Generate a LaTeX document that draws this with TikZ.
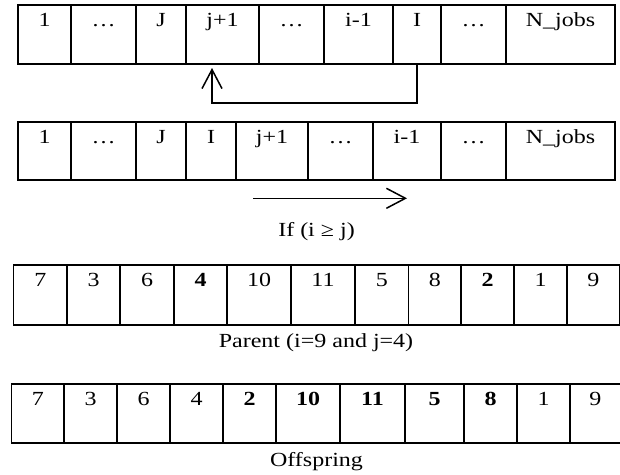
\documentclass[tikz,border=0pt]{standalone}
\usepackage{fontspec}
\setmainfont[FakeStretch=1.2]{Liberation Serif}
\usetikzlibrary{arrows.meta}
\begin{document}
\begin{tikzpicture}[x=1pt,y=-1pt,
  cellbox/.style={draw, line width=1.5pt, rectangle, inner sep=0pt, outer sep=0pt, anchor=north west},
  celltext/.style={anchor=base, inner sep=0pt, font=\fontsize{20}{24}\selectfont},
  caption/.style={anchor=base, inner sep=0pt, font=\fontsize{20}{24}\selectfont},
  arr/.style={line width=1.5pt, -{Straight Barb[length=19pt, width=20pt]}}]
\useasboundingbox[fill=white] (0,0) rectangle (620,474);

% first sequence
\foreach \a/\b/\t [count=\k] in {18/71/1, 71/136/\dots, 136/186/J, 186/259/j+1, 259/324/\dots,
    324/393/i-1, 393/441/I, 441/506/\dots, 506/615/N\_jobs} {
  \pgfmathsetmacro\w{\b-\a}
  \node[cellbox, minimum width=\w pt, minimum height=59pt] (r1c\k) at (\a,5) {};
  \node[celltext] (t1c\k) at ({(\a+\b)/2},26.7) {\t};
}

% second sequence, job I moved behind J
\foreach \a/\b/\t [count=\k] in {18/71/1, 71/136/\dots, 136/186/J, 186/236/I, 236/308/j+1,
    308/373/\dots, 373/441/i-1, 441/506/\dots, 506/615/N\_jobs} {
  \pgfmathsetmacro\w{\b-\a}
  \node[cellbox, minimum width=\w pt, minimum height=58pt] (r2c\k) at (\a,122) {};
  \node[celltext] (t2c\k) at ({(\a+\b)/2},143.5) {\t};
}

% parent
\foreach \a/\b/\t [count=\k] in {13.5/67/7, 67/120/3, 120/174/6, 174/227/\textbf{4}, 227/291/10,
    291/355/11, 355/408.5/5, 408.5/461/8, 461/514/\textbf{2}, 514/567/1, 567/619.5/9} {
  \pgfmathsetmacro\w{\b-\a}
  \node[cellbox, minimum width=\w pt, minimum height=60pt] (r3c\k) at (\a,265) {};
  \node[celltext] (t3c\k) at ({(\a+\b)/2},286.7) {\t};
}

% offspring
\foreach \a/\b/\t [count=\k] in {11.5/64/7, 64/117/3, 117/170/6, 170/223/4, 223/276/\textbf{2},
    276/340/\textbf{10}, 340/405/\textbf{11}, 405/464/\textbf{5}, 464/517/\textbf{8}, 517/570/1, 570/620.5/9} {
  \pgfmathsetmacro\w{\b-\a}
  \node[cellbox, minimum width=\w pt, minimum height=59pt] (r4c\k) at (\a,384) {};
  \node[celltext] (t4c\k) at ({(\a+\b)/2},405.7) {\t};
}

% insertion move: job I goes back to position j+1
\coordinate (tip1) at (212,68);
\draw[arr] (r1c7.south) -- ++(0,39) -| (tip1);

% shift of the jobs j+1 ... i-1
\coordinate (s2) at (253,198.3);
\coordinate (e2) at (407,198.3);
\draw[arr] (s2) -- (e2);

\node[caption] (cond) at (316.5,236.5) {If (i ≥ j)};
\node[caption] (par) at (316,347) {Parent (i=9 and j=4)};
\node[caption] (off) at (316.5,466.5) {Offspring};
\end{tikzpicture}
\end{document}
